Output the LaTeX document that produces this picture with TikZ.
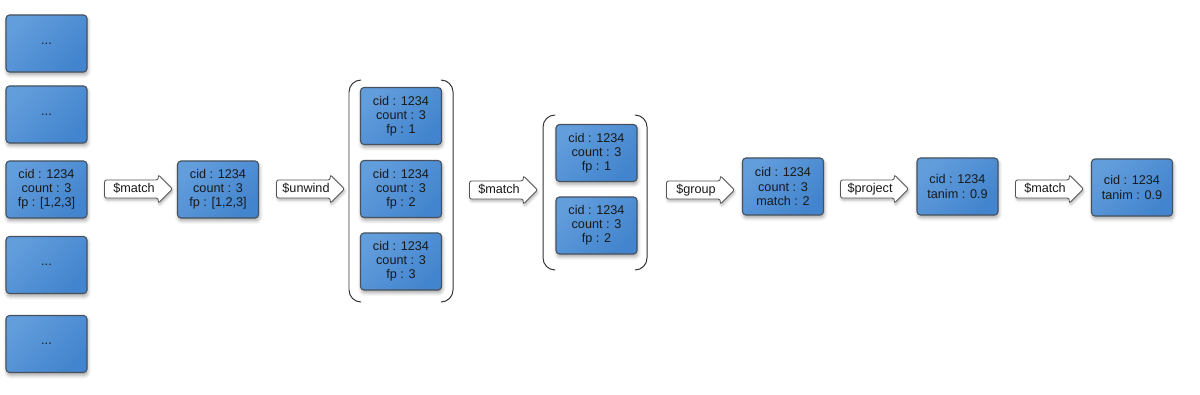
\documentclass[tikz,border=0pt]{standalone}
\usepackage{fontspec}
\setmainfont{Liberation Sans}
\usetikzlibrary{shapes.arrows,shadows.blur}

\definecolor{docblue}{RGB}{98,157,220}
\definecolor{docdark}{RGB}{66,132,205}
\definecolor{docline}{RGB}{72,82,94}
\definecolor{stageline}{RGB}{85,85,85}
\definecolor{inktext}{RGB}{25,25,25}

\tikzset{
  doc/.style={draw=docline, line width=0.8pt, rounded corners=2.5pt,
    top color=docblue, bottom color=docdark, shading angle=45,
    minimum width=2.025cm, minimum height=1.425cm, inner sep=0pt,
    align=center, text=inktext, font=\fontsize{9}{10}\selectfont,
    blur shadow={shadow xshift=0.6pt, shadow yshift=-2pt,
      shadow blur radius=2.5pt, shadow opacity=35}},
  stage/.style={single arrow, draw=stageline, fill=white, line width=0.6pt,
    rounded corners=1.5pt, single arrow head extend=0.13cm,
    minimum height=1.7cm, inner xsep=2pt, inner ysep=2pt,
    text height=6.5pt, text depth=1.8pt, text=inktext,
    font=\fontsize{9}{10}\selectfont,
    blur shadow={shadow xshift=0.6pt, shadow yshift=-1.5pt,
      shadow blur radius=2pt, shadow opacity=30}},
  bracket/.style={draw=black!80, line width=0.7pt, rounded corners=0.3cm}
}

\begin{document}
\begin{tikzpicture}[x=0.025cm, y=-0.025cm]
\useasboundingbox (0,0) rectangle (1200,394);

% input collection
\node[doc] (in1) at (46.5,43.5) {...};
\node[doc] (in2) at (46.5,114.5) {...};
\node[doc] (in3) at (46.5,189.5) {cid : 1234\\count : 3\\fp : [1,2,3]};
\node[doc] (in4) at (46.5,265) {...};
\node[doc] (in5) at (46.5,344) {...};

\node[stage] (match1) at (134,189) {\$match};
\node[doc] (matched) at (218,189.5) {cid : 1234\\count : 3\\fp : [1,2,3]};

\node[stage] (unwind) at (306,189) {\$unwind};
\node[doc] (unw1) at (401,116) {cid : 1234\\count : 3\\fp : 1};
\node[doc] (unw2) at (401,189) {cid : 1234\\count : 3\\fp : 2};
\node[doc] (unw3) at (401,261.5) {cid : 1234\\count : 3\\fp : 3};
\draw[bracket] (361,80) -- (349,80) -- (349,302) -- (361,302);
\draw[bracket] (441,80) -- (453,80) -- (453,302) -- (441,302);

\node[stage] (match2) at (499,190) {\$match};
\node[doc] (kept1) at (596.5,153) {cid : 1234\\count : 3\\fp : 1};
\node[doc] (kept2) at (596.5,225.5) {cid : 1234\\count : 3\\fp : 2};
\draw[bracket] (555,115) -- (543,115) -- (543,270) -- (555,270);
\draw[bracket] (635,115) -- (647,115) -- (647,270) -- (635,270);

\node[stage] (group) at (696,190) {\$group};
\node[doc] (grouped) at (783,186.5) {cid : 1234\\count : 3\\match : 2};

\node[stage] (project) at (870,189) {\$project};
\node[doc] (projected) at (957.5,186.5) {cid : 1234\\tanim : 0.9};

\node[stage] (match3) at (1045,189) {\$match};
\node[doc] (result) at (1132,187.5) {cid : 1234\\tanim : 0.9};
\end{tikzpicture}
\end{document}
